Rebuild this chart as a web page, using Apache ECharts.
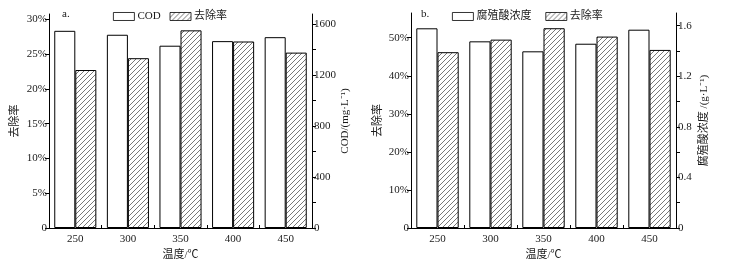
<!DOCTYPE html>
<html><head><meta charset="utf-8">
<script src="https://cdn.jsdelivr.net/npm/echarts@6/dist/echarts.min.js"></script>
<style>html,body{margin:0;padding:0;background:#fff}#c{width:730px;height:272px}</style>
</head><body><div id="c"></div>
<script>
var categories = ['250', '300', '350', '400', '450'];
// chart a
var codValues = [1548, 1517, 1431, 1467, 1498];
var codRemoval = [22.7, 24.4, 28.4, 26.8, 25.2];
// chart b
var haValues = [1.579, 1.476, 1.397, 1.457, 1.568];
var haRemoval = [46.2, 49.5, 52.5, 50.3, 46.8];
// tick labels
var aLeftTicks = [0, 5, 10, 15, 20, 25, 30];
var aRightTicks = [0, 400, 800, 1200, 1600];
var aRightMinor = [0, 200, 400, 600, 800, 1000, 1200, 1400, 1600];
var bLeftTicks = [0, 10, 20, 30, 40, 50];
var bRightTicks = [0, 0.4, 0.8, 1.2, 1.6];
var bRightMinor = [0, 0.2, 0.4, 0.6, 0.8, 1.0, 1.2, 1.4, 1.6];

var FONT = "'Liberation Serif','Noto Sans CJK SC',serif";
var TXT = '#1a1a1a';

// hatch pattern
var pc = document.createElement('canvas');
pc.width = 5; pc.height = 5;
var g = pc.getContext('2d');
g.fillStyle = '#fff'; g.fillRect(0, 0, 5, 5);
g.strokeStyle = '#555'; g.lineWidth = 0.8;
g.beginPath();
g.moveTo(-1, 6); g.lineTo(6, -1);
g.moveTo(-1, 1); g.lineTo(1, -1);
g.moveTo(4, 6); g.lineTo(6, 4);
g.stroke();
var hatch = { image: pc, repeat: 'repeat' };

function pctFmt(v) { return v === 0 ? '0' : v + '%'; }
function plainFmt(v) { return String(v); }

function valAxis(gridIndex, pos, max, ticks, minor, fmt, name, nameGap) {
  return {
    type: 'value', gridIndex: gridIndex, position: pos, min: 0, max: max,
    name: name, nameLocation: 'middle', nameGap: nameGap, nameRotate: 90,
    nameTextStyle: { fontFamily: FONT, fontSize: 11, color: TXT },
    axisLine: { show: true, onZero: false, lineStyle: { color: '#000', width: 1 } },
    axisTick: { show: true, inside: false, length: 4, customValues: minor || ticks, lineStyle: { color: '#000' } },
    axisLabel: { show: true, margin: 2, customValues: ticks, formatter: fmt, fontFamily: FONT, fontSize: 11, color: TXT },
    splitLine: { show: false }
  };
}

function catAxis(gridIndex) {
  return {
    type: 'category', gridIndex: gridIndex, data: categories, boundaryGap: true,
    name: '温度/℃', nameLocation: 'middle', nameGap: 20,
    nameTextStyle: { fontFamily: FONT, fontSize: 11, color: TXT },
    axisLine: { lineStyle: { color: '#000', width: 1 } },
    axisTick: { show: true, inside: true, length: 3, alignWithLabel: false, lineStyle: { color: '#000' } },
    axisLabel: { margin: 6, fontFamily: FONT, fontSize: 11, color: TXT }
  };
}

var plainStyle = { color: '#fff', borderColor: '#000', borderWidth: 1 };
var hatchStyle = { color: hatch, borderColor: '#000', borderWidth: 1 };

var chart = echarts.init(document.getElementById('c'), null, { renderer: 'canvas' });
chart.setOption({
  animation: false,
  backgroundColor: '#fff',
  grid: [
    { left: 49, right: 418, top: 14, bottom: 44 },
    { left: 411, right: 54, top: 13, bottom: 44 }
  ],
  legend: [
    { left: 113, top: 11, padding: 0, itemWidth: 21, itemHeight: 8, itemGap: 9, icon: 'rect',
      itemStyle: { borderWidth: 0.8, borderColor: '#000' },
      textStyle: { fontFamily: FONT, fontSize: 11, color: TXT, padding: [0, 0, 0, -2] },
      data: ['COD', '去除率a'], formatter: function (n) { return n === '去除率a' ? '去除率' : n; } },
    { left: 452, top: 11, padding: 0, itemWidth: 21, itemHeight: 8, itemGap: 14, icon: 'rect',
      itemStyle: { borderWidth: 0.8, borderColor: '#000' },
      textStyle: { fontFamily: FONT, fontSize: 11, color: TXT, padding: [0, 0, 0, -2] },
      data: ['腐殖酸浓度', '去除率b'], formatter: function (n) { return n === '去除率b' ? '去除率' : n; } }
  ],
  xAxis: [catAxis(0), catAxis(1)],
  yAxis: [
    valAxis(0, 'left', 30.75, aLeftTicks, null, pctFmt, '去除率', 28),
    valAxis(0, 'right', 1680, aRightTicks, aRightMinor, plainFmt, 'COD/(mg·L⁻¹)', 23),
    valAxis(1, 'left', 56.5, bLeftTicks, null, pctFmt, '去除率', 27),
    valAxis(1, 'right', 1.7, bRightTicks, bRightMinor, plainFmt, '腐殖酸浓度 /(g·L⁻¹)', 23)
  ],
  graphic: [
    { type: 'text', left: 62, top: 9, style: { text: 'a.', fontFamily: FONT, fontSize: 11, fill: TXT } },
    { type: 'text', left: 421, top: 9, style: { text: 'b.', fontFamily: FONT, fontSize: 11, fill: TXT } }
  ],
  series: [
    { name: 'COD', type: 'bar', xAxisIndex: 0, yAxisIndex: 1, data: codValues,
      barCategoryGap: '20%', barGap: '0%', itemStyle: plainStyle },
    { name: '去除率a', type: 'bar', xAxisIndex: 0, yAxisIndex: 0, data: codRemoval,
      barCategoryGap: '20%', barGap: '0%', itemStyle: hatchStyle },
    { name: '腐殖酸浓度', type: 'bar', xAxisIndex: 1, yAxisIndex: 3, data: haValues,
      barCategoryGap: '20%', barGap: '0%', itemStyle: plainStyle },
    { name: '去除率b', type: 'bar', xAxisIndex: 1, yAxisIndex: 2, data: haRemoval,
      barCategoryGap: '20%', barGap: '0%', itemStyle: hatchStyle }
  ]
});
</script>
</body></html>
